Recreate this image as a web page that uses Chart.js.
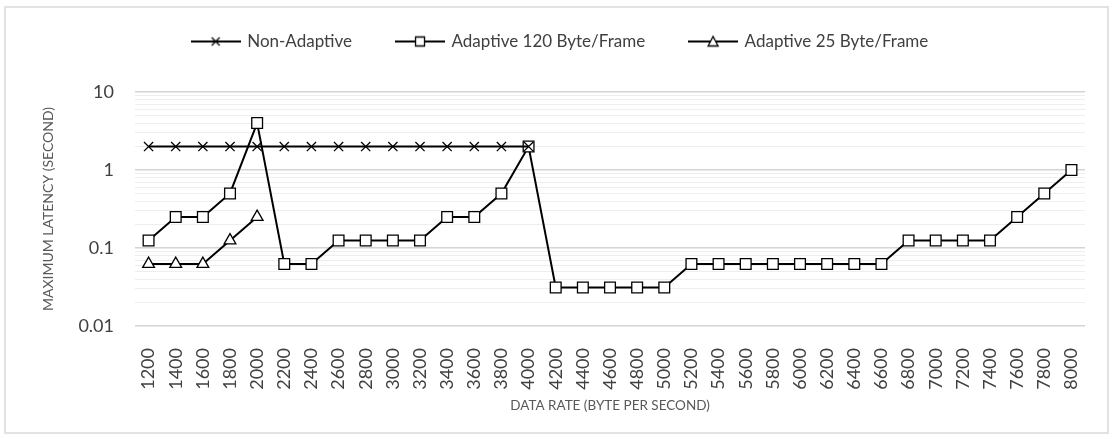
<!DOCTYPE html>
<html>
<head>
<meta charset="utf-8">
<script src="https://cdn.jsdelivr.net/npm/chart.js@4.4.1/dist/chart.umd.min.js"></script>
<style>
  html, body { margin: 0; padding: 0; background: #fff; }
  #frame { position: absolute; left: 4px; top: 6px; width: 1101px; height: 424px; border: 2px solid #e2e2e2; }
  #wrap { position: absolute; left: 0; top: 0; width: 1113px; height: 439px; }
</style>
</head>
<body>
<div id="frame"></div>
<div id="wrap"><canvas id="chart" width="1113" height="439"></canvas></div>
<script>
// data rate categories (byte per second)
const rates = [1200, 1400, 1600, 1800, 2000, 2200, 2400, 2600, 2800, 3000, 3200, 3400, 3600, 3800, 4000,
  4200, 4400, 4600, 4800, 5000, 5200, 5400, 5600, 5800, 6000, 6200, 6400, 6600, 6800, 7000, 7200, 7400,
  7600, 7800, 8000];

// maximum latency (second)
const nonAdaptive = [2, 2, 2, 2, 2, 2, 2, 2, 2, 2, 2, 2, 2, 2, 2];
const adaptive120 = [0.125, 0.25, 0.25, 0.5, 4, 0.0625, 0.0625, 0.125, 0.125, 0.125, 0.125, 0.25, 0.25, 0.5, 2,
  0.03125, 0.03125, 0.03125, 0.03125, 0.03125, 0.0625, 0.0625, 0.0625, 0.0625, 0.0625, 0.0625, 0.0625, 0.0625,
  0.125, 0.125, 0.125, 0.125, 0.25, 0.5, 1];
const adaptive25 = [0.0625, 0.0625, 0.0625, 0.125, 0.25];

// log axis decades
const decades = [0.01, 0.1, 1, 10];

const FONT = "Lato, 'Open Sans', sans-serif";

function isDecade(v) {
  const l = Math.log10(v);
  return Math.abs(l - Math.round(l)) < 1e-6;
}

function decadeLabel(v) {
  const e = Math.round(Math.log10(v));
  return e >= 0 ? String(Math.pow(10, e)) : Math.pow(10, e).toFixed(-e);
}

// small canvas icons for the legend: line with marker in the middle
function legendIcon(style) {
  const c = document.createElement('canvas');
  c.width = 50; c.height = 14;
  const g = c.getContext('2d');
  g.strokeStyle = '#000';
  g.lineWidth = 2;
  g.beginPath(); g.moveTo(0, 7); g.lineTo(50, 7); g.stroke();
  g.lineWidth = 1.3;
  g.fillStyle = '#fff';
  g.beginPath();
  if (style === 'cross') {
    g.moveTo(21, 3); g.lineTo(29, 11); g.moveTo(29, 3); g.lineTo(21, 11);
    g.stroke();
  } else if (style === 'rect') {
    g.rect(20.5, 2.5, 9, 9); g.fill(); g.stroke();
  } else {
    g.moveTo(25, 2); g.lineTo(30, 11.5); g.lineTo(20, 11.5); g.closePath(); g.fill(); g.stroke();
  }
  return c;
}
const icons = [legendIcon('cross'), legendIcon('rect'), legendIcon('tri')];

const legendHeight = {
  id: 'legendHeight',
  beforeInit(chart) {
    const fit = chart.legend.fit;
    chart.legend.fit = function() {
      fit.bind(chart.legend)();
      this.height = 104;
    };
  }
};

function series(label, data, style, radius) {
  return {
    label: label,
    data: data,
    borderColor: '#000',
    borderWidth: 2,
    pointStyle: style,
    pointRadius: radius,
    pointBorderWidth: 1.3,
    pointBorderColor: '#000',
    pointBackgroundColor: '#fff',
    tension: 0,
    spanGaps: false
  };
}

new Chart(document.getElementById('chart'), {
  type: 'line',
  data: {
    labels: rates.map(String),
    datasets: [
      series('Non-Adaptive', nonAdaptive, 'crossRot', 6.5),
      series('Adaptive 120 Byte/Frame', adaptive120, 'rect', 7.6),
      series('Adaptive 25 Byte/Frame', adaptive25, 'triangle', 6.8)
    ]
  },
  options: {
    responsive: false,
    animation: false,
    layout: { padding: { left: 36, right: 28, top: -12, bottom: 21 } },
    plugins: {
      tooltip: { enabled: false },
      legend: {
        position: 'top',
        labels: {
          usePointStyle: true,
          pointStyleWidth: 46,
          padding: 45,
          color: '#404040',
          font: { family: FONT, size: 17 },
          generateLabels(chart) {
            const items = Chart.defaults.plugins.legend.labels.generateLabels(chart);
            items.forEach((it, i) => { it.pointStyle = icons[i]; });
            return items;
          }
        }
      }
    },
    scales: {
      x: {
        offset: true,
        grid: { display: false },
        border: { display: false },
        ticks: {
          autoSkip: false,
          minRotation: 90,
          maxRotation: 90,
          padding: 14,
          color: '#404040',
          font: { family: FONT, size: 18 }
        },
        title: {
          display: true,
          text: 'DATA RATE (BYTE PER SECOND)',
          color: '#595959',
          font: { family: FONT, size: 13.5 }
        },
        afterFit(scale) { scale.height = 92; }
      },
      y: {
        type: 'logarithmic',
        min: decades[0],
        max: decades[decades.length - 1],
        border: { display: false },
        grid: {
          drawTicks: false,
          color: ctx => (ctx.tick && isDecade(ctx.tick.value)) ? '#d4d4d4' : '#eeeeee',
          lineWidth: ctx => (ctx.tick && isDecade(ctx.tick.value)) ? 1.5 : 1
        },
        ticks: {
          autoSkip: false,
          padding: 21,
          color: '#404040',
          font: { family: FONT, size: 18 },
          callback: v => isDecade(v) ? decadeLabel(v) : ''
        },
        title: {
          display: true,
          text: 'MAXIMUM LATENCY (SECOND)',
          color: '#595959',
          font: { family: FONT, size: 14 }
        },
        afterBuildTicks(scale) {
          const ticks = [];
          for (let d = 0; d < decades.length - 1; d++) {
            for (let k = 1; k < 10; k++) ticks.push({ value: decades[d] * k });
          }
          ticks.push({ value: decades[decades.length - 1] });
          scale.ticks = ticks;
        },
        afterFit(scale) { scale.width = 99; }
      }
    }
  },
  plugins: [legendHeight]
});
</script>
</body>
</html>
